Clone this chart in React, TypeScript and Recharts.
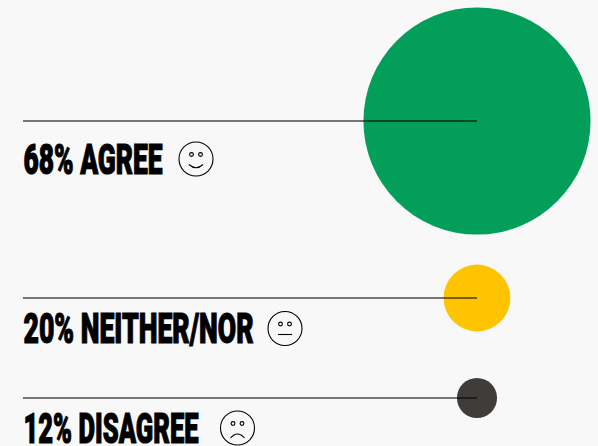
import { ScatterChart, Scatter, XAxis, YAxis } from 'recharts';

const shares = [68, 20, 12];
const labels = ['68% AGREE', '20% NEITHER/NOR', '12% DISAGREE'];
const colors = ['#029e5a', '#ffc400', '#3f3d3c'];
const moods = ['happy', 'neutral', 'sad'];

// everything in its own 598x446 coordinates
const bubbleX = [477, 477, 477];
const bubbleY = [121, 298, 398];
const lineStart = 23;
const labelY = [173.5, 342.5, 443];
const labelWidth = [139, 230, 175];
const faceX = [196, 285, 237.5];
const faceY = [159, 328.5, 428];

const bubbles = shares.map((share, i) => ({ x: bubbleX[i], y: bubbleY[i], share, color: colors[i] }));
const texts = labels.map((label, i) => ({ x: lineStart + 0.5, y: labelY[i], label, width: labelWidth[i] }));
const faces = moods.map((mood, i) => ({ x: faceX[i], y: faceY[i], mood }));

const PX_PER_PCT = 1.67;
const noDot = () => <g />;

function Bubble({ cx, cy, payload }: any) {
  return <circle cx={cx} cy={cy} r={payload.share * PX_PER_PCT} fill={payload.color} />;
}

function Label({ cx, cy, payload }: any) {
  return (
    <text
      x={cx}
      y={cy}
      textLength={payload.width}
      lengthAdjust="spacingAndGlyphs"
      fontFamily="Roboto, 'Liberation Sans', sans-serif"
      fontWeight={900}
      fontSize={43}
      fill="#000"
      stroke="#000"
      strokeWidth={1.2}
    >
      {payload.label}
    </text>
  );
}

function Face({ cx, cy, payload }: any) {
  const mouth =
    payload.mood === 'happy'
      ? `M${cx - 7} ${cy + 5.5}Q${cx} ${cy + 12} ${cx + 7} ${cy + 5.5}`
      : payload.mood === 'neutral'
        ? `M${cx - 7} ${cy + 6}H${cx + 7}`
        : `M${cx - 7} ${cy + 10}Q${cx} ${cy + 2} ${cx + 7} ${cy + 10}`;
  return (
    <g fill="none" stroke="#000" strokeWidth={1.1}>
      <circle cx={cx} cy={cy} r={17} />
      <circle cx={cx - 4.5} cy={cy - 4.5} r={1.9} />
      <circle cx={cx + 4.5} cy={cy - 4.5} r={1.9} />
      <path d={mouth} />
    </g>
  );
}

export default function App() {
  return (
    <div style={{ position: 'absolute', left: 0, top: 0, width: 598, height: 446, background: '#f8f8f8', overflow: 'hidden' }}>
      <ScatterChart width={598} height={446} margin={{ top: 0, right: 0, bottom: 0, left: 0 }}>
        <XAxis type="number" dataKey="x" hide domain={[0, 598]} />
        <YAxis type="number" dataKey="y" hide reversed domain={[0, 446]} />
        <Scatter data={bubbles} shape={Bubble} isAnimationActive={false} />
        <Scatter data={texts} shape={Label} isAnimationActive={false} />
        <Scatter data={faces} shape={Face} isAnimationActive={false} />
        {bubbles.map((b) => (
          <Scatter
            key={b.y}
            data={[{ x: lineStart, y: b.y }, { x: b.x, y: b.y }]}
            line={{ stroke: '#000', strokeOpacity: 0.7, strokeWidth: 1.3 }}
            shape={noDot}
            isAnimationActive={false}
          />
        ))}
      </ScatterChart>
    </div>
  );
}
